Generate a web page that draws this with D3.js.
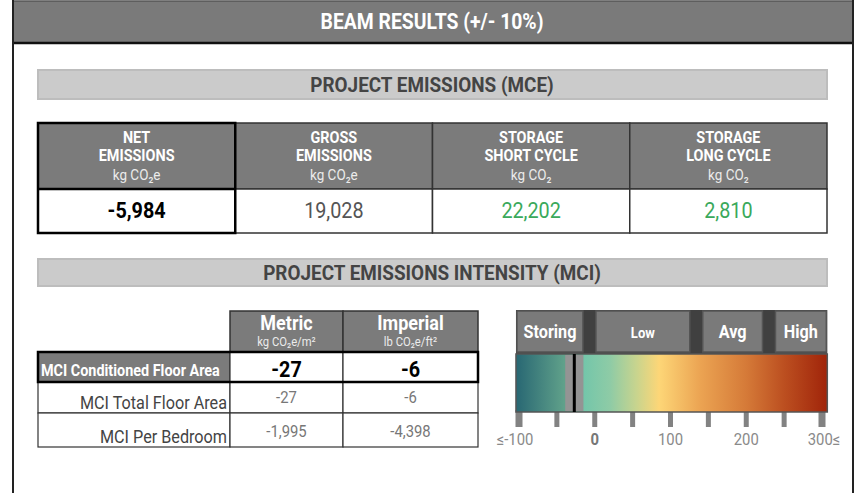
<!DOCTYPE html>
<html>
<head>
<meta charset="utf-8">
<script src="https://cdn.jsdelivr.net/npm/d3@7"></script>
<style>
  body { margin: 0; background: #fff; }
  svg { display: block; font-family: Roboto, "Liberation Sans", sans-serif; }
</style>
</head>
<body>
<svg id="chart" width="862" height="495"></svg>
<script>
// data
const title = 'BEAM RESULTS (+/- 10%)';
const mceTitle = 'PROJECT EMISSIONS (MCE)';
const mciTitle = 'PROJECT EMISSIONS INTENSITY (MCI)';

const mceLabels = [['NET', 'EMISSIONS'], ['GROSS', 'EMISSIONS'], ['STORAGE', 'SHORT CYCLE'], ['STORAGE', 'LONG CYCLE']];
const mceUnits = ['kg CO₂e', 'kg CO₂e', 'kg CO₂', 'kg CO₂'];
const mceValues = [-5984, 19028, 22202, 2810];

const mciRows = ['MCI Conditioned Floor Area', 'MCI Total Floor Area', 'MCI Per Bedroom'];
const mciCols = ['Metric', 'Imperial'];
const mciUnits = ['kg CO₂e/m²', 'lb CO₂e/ft²'];
const mciMetric = [-27, -27, -1995];
const mciImperial = [-6, -6, -4398];

const bandNames = ['Storing', 'Low', 'Avg', 'High'];
const bandBreaks = [-104, -7, 134, 230, 307];
const scaleTicks = [-100, -50, 0, 50, 100, 150, 200, 250, 300];
const scaleLabels = ['≤-100', '0', '100', '200', '300≤'];
const scaleLabelValues = [-100, 0, 100, 200, 300];
const gradStops = [[-104, '#286773'], [-38, '#62a38b'], [-14, '#74c6aa'], [20, '#8ecba6'], [55, '#c8d48e'], [85, '#fdd677'], [140, '#eba352'], [200, '#d57a38'], [250, '#bc4f20'], [307, '#a0240a']];
const markerValue = mciMetric[0];
const markerSpread = 12;

const svg = d3.select('#chart');
const fmt = v => d3.format(',')(v).replace('−', '-'); // plain hyphen like the source
const SX = 0.9; // squeeze Roboto to look like the condensed face

function label(g, x, y, s, size, opt = {}) {
  return g.append('text')
    .attr('transform', `translate(${x},${y}) scale(${SX},1)`)
    .attr('text-anchor', opt.anchor || 'middle')
    .attr('font-size', size)
    .attr('font-weight', opt.bold ? 700 : 400)
    .attr('fill', opt.fill || '#000')
    .text(s);
}

// outer frame + header
svg.append('rect').attr('x', 13).attr('y', 1).attr('width', 840).attr('height', 42)
  .attr('fill', '#7a7a7a').attr('stroke', '#555').attr('stroke-width', 1.5);
svg.append('line').attr('x1', 13).attr('x2', 853).attr('y1', 43).attr('y2', 43).attr('stroke', '#111').attr('stroke-width', 2.5);
svg.append('line').attr('x1', 13).attr('x2', 13).attr('y1', 0).attr('y2', 493).attr('stroke', '#222').attr('stroke-width', 2);
svg.append('line').attr('x1', 853).attr('x2', 853).attr('y1', 0).attr('y2', 493).attr('stroke', '#222').attr('stroke-width', 2);
label(svg, 432, 29, title, 21.5, { bold: true, fill: '#fff' });

// section bands
function band(y, h, text) {
  svg.append('rect').attr('x', 38).attr('y', y).attr('width', 789).attr('height', h)
    .attr('fill', '#cbcbcb').attr('stroke', '#bdbdbd').attr('stroke-width', 2);
  label(svg, 432, y + h / 2 + 7.5, text, 21, { bold: true, fill: '#444' });
}
band(70, 29, mceTitle);
band(259, 27, mciTitle);

// MCE table
const mx = d3.scaleBand().domain(d3.range(mceValues.length)).range([38, 827]);
const mce = svg.append('g');
const mceCells = mce.selectAll('g').data(mceValues).join('g');
mceCells.append('rect').attr('x', (d, i) => mx(i)).attr('y', 123).attr('width', mx.bandwidth()).attr('height', 66)
  .attr('fill', '#7b7b7b').attr('stroke', '#333').attr('stroke-width', 1.5);
mceCells.append('rect').attr('x', (d, i) => mx(i)).attr('y', 189).attr('width', mx.bandwidth()).attr('height', 44)
  .attr('fill', '#fff').attr('stroke', '#333').attr('stroke-width', 1.5);
mceCells.each(function (d, i) {
  const g = d3.select(this), cx = mx(i) + mx.bandwidth() / 2;
  label(g, cx, 143, mceLabels[i][0], 16, { bold: true, fill: '#fff' });
  label(g, cx, 161, mceLabels[i][1], 16, { bold: true, fill: '#fff' });
  label(g, cx, 180, mceUnits[i], 15, { fill: '#ececec' });
  const col = i === 0 ? '#000' : i === 1 ? '#555' : '#3aa95b';
  label(g, cx, 218, fmt(d), 22, { bold: i === 0, fill: col });
});
mce.append('rect').attr('x', mx(0)).attr('y', 123).attr('width', mx.bandwidth()).attr('height', 110)
  .attr('fill', 'none').attr('stroke', '#000').attr('stroke-width', 2.5);
mce.append('line').attr('x1', mx(0)).attr('x2', mx(0) + mx.bandwidth()).attr('y1', 189).attr('y2', 189)
  .attr('stroke', '#000').attr('stroke-width', 2.5);

// MCI table
const colX = [230, 343, 478];
const rowY = d3.scaleOrdinal().domain(d3.range(mciRows.length)).range([[352, 382], [382, 413], [413, 447]]);
const mci = svg.append('g');
mciCols.forEach((c, j) => {
  mci.append('rect').attr('x', colX[j]).attr('y', 311).attr('width', colX[j + 1] - colX[j]).attr('height', 41)
    .attr('fill', '#7b7b7b').attr('stroke', '#333').attr('stroke-width', 1.5);
  const cx = (colX[j] + colX[j + 1]) / 2;
  label(mci, cx, 330, c, 20, { bold: true, fill: '#fff' });
  label(mci, cx, 346, mciUnits[j], 12.5, { fill: '#ececec' });
});
mciRows.forEach((r, i) => {
  const [y0, y1] = rowY(i), first = i === 0;
  mci.append('rect').attr('x', 38).attr('y', y0).attr('width', 192).attr('height', y1 - y0)
    .attr('fill', first ? '#7b7b7b' : '#fff').attr('stroke', '#333').attr('stroke-width', 1.2);
  [mciMetric[i], mciImperial[i]].forEach((v, j) => {
    mci.append('rect').attr('x', colX[j]).attr('y', y0).attr('width', colX[j + 1] - colX[j]).attr('height', y1 - y0)
      .attr('fill', '#fff').attr('stroke', '#333').attr('stroke-width', 1.2);
    const cx = (colX[j] + colX[j + 1]) / 2;
    if (first) label(mci, cx, y1 - 5, fmt(v), 22, { bold: true, fill: '#000' });
    else label(mci, cx, y1 - 10, fmt(v), 16.5, { fill: '#777' });
  });
  if (first) label(mci, 41, y1 - 6, r, 16, { bold: true, fill: '#fff', anchor: 'start' });
  else label(mci, 227, y1 - 4.5, r, 18, { fill: '#444', anchor: 'end' });
});
const [r0, r1] = rowY(0);
mci.append('rect').attr('x', 38).attr('y', r0).attr('width', colX[2] - 38).attr('height', r1 - r0)
  .attr('fill', 'none').attr('stroke', '#000').attr('stroke-width', 2.5);

// intensity scale
const x = d3.scaleLinear().domain([-100, 300]).range([519, 822]);
const scale = svg.append('g');
const grad = svg.append('defs').append('linearGradient').attr('id', 'heat')
  .attr('gradientUnits', 'userSpaceOnUse').attr('x1', x(bandBreaks[0])).attr('x2', x(bandBreaks[4]));
grad.selectAll('stop').data(gradStops).join('stop')
  .attr('offset', d => (x(d[0]) - x(bandBreaks[0])) / (x(bandBreaks[4]) - x(bandBreaks[0])))
  .attr('stop-color', d => d[1]);

scale.append('rect').attr('x', x(bandBreaks[0])).attr('y', 310).attr('width', x(bandBreaks[4]) - x(bandBreaks[0])).attr('height', 44)
  .attr('fill', '#404040');
bandNames.forEach((n, i) => {
  const a = x(bandBreaks[i]) + (i ? 5.5 : 0), b = x(bandBreaks[i + 1]) - (i < 3 ? 5.5 : 0);
  scale.append('rect').attr('x', a + 1).attr('y', 311).attr('width', b - a - 2).attr('height', 41)
    .attr('fill', '#7a7a7a').attr('stroke', '#555').attr('stroke-width', 1.5);
  label(scale, (a + b) / 2, 338, n, n === 'Low' ? 14.5 : 18, { bold: true, fill: '#fff' });
});

const endTick = d => d === scaleTicks[0] || d === scaleTicks[scaleTicks.length - 1];
scale.selectAll('.tick').data(scaleTicks).join('rect').attr('class', 'tick')
  .attr('x', d => x(d) - (endTick(d) ? 3.5 : 2.5)).attr('y', 410)
  .attr('width', d => endTick(d) ? 7 : 5).attr('height', 17).attr('fill', '#828282');

scale.append('rect').attr('x', x(bandBreaks[0])).attr('y', 354).attr('width', x(bandBreaks[4]) - x(bandBreaks[0])).attr('height', 58)
  .attr('fill', 'url(#heat)').attr('stroke', '#555').attr('stroke-width', 1.5);
scale.append('rect').attr('x', x(markerValue - markerSpread)).attr('y', 355).attr('width', x(markerValue + markerSpread) - x(markerValue - markerSpread)).attr('height', 56)
  .attr('fill', '#949494');
scale.append('line').attr('x1', x(markerValue)).attr('x2', x(markerValue)).attr('y1', 354).attr('y2', 412)
  .attr('stroke', '#000').attr('stroke-width', 3);

scaleLabels.forEach((s, i) => {
  const v = scaleLabelValues[i];
  label(scale, x(v) + (i === 0 ? -4 : i === 4 ? 2 : 0), 445, s, 16.5, { bold: v === 0, fill: v === 0 ? '#777' : '#8a8a8a' });
});
</script>
</body>
</html>
